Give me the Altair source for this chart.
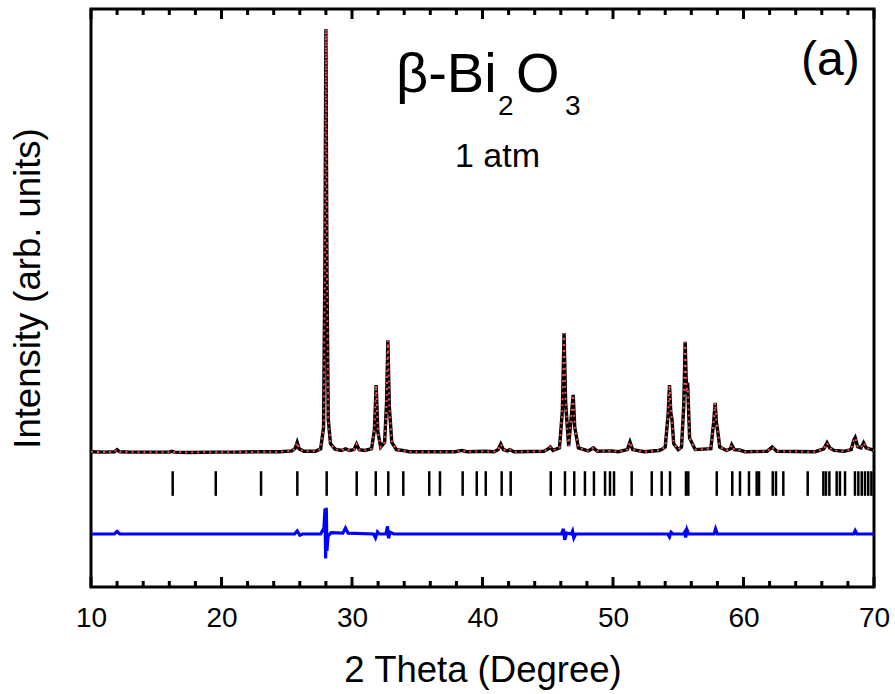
import altair as alt
import pandas as pd

FONT = "Liberation Sans"

# ---- observed / calculated profile (2theta in degrees, intensity in arb. units) ----
two_theta = [10.0, 11.0, 11.8, 12.0, 12.2, 13.0, 14.5, 16.0, 16.2, 16.4, 17.5, 19.5, 21.0, 23.0,
             24.5, 25.4, 25.65, 25.8, 25.95, 26.3, 27.2, 27.6, 27.82, 27.92, 28.0, 28.08, 28.18,
             28.35, 28.7, 29.2, 29.5, 29.8, 30.15, 30.35, 30.55, 31.0, 31.5, 31.72, 31.85, 31.98,
             32.2, 32.5, 32.65, 32.75, 32.86, 33.05, 33.4, 33.9, 34.4, 36.0, 37.9, 38.4, 38.8,
             40.2, 40.9, 41.2, 41.4, 41.6, 41.9, 42.1, 42.4, 44.7, 45.05, 45.2, 45.4, 45.9, 46.12,
             46.25, 46.37, 46.6, 46.83, 46.95, 47.07, 47.35, 48.1, 48.5, 48.8, 49.9, 50.4, 51.1,
             51.3, 51.5, 52.4, 53.5, 53.7, 54.0, 54.22, 54.33, 54.43, 54.52, 54.65, 55.0, 55.25,
             55.42, 55.53, 55.63, 55.73, 55.87, 56.3, 57.5, 57.72, 57.83, 57.93, 58.01, 58.18,
             58.7, 59.0, 59.1, 59.3, 59.7, 60.1, 61.8, 62.2, 62.55, 65.5, 66.15, 66.4, 66.62,
             66.95, 67.7, 68.25, 68.45, 68.56, 68.75, 69.0, 69.2, 69.4, 70.0]
i_obs = [3, 2, 3, 8, 3, 2, 2, 2, 4, 2, 1, 2, 2, 3,
         3, 5, 11, 25, 10, 4, 4, 10, 60, 420, 1000, 430, 80,
         22, 9, 6, 10, 6, 8, 21, 8, 6, 10, 55, 160, 50,
         14, 25, 120, 266, 110, 25, 8, 6, 3, 3, 3, 6, 3,
         4, 3, 8, 21, 8, 5, 8, 3, 4, 10, 14, 6, 12, 100,
         283, 120, 16, 95, 137, 60, 12, 5, 12, 4, 5, 3, 8,
         26, 8, 3, 6, 8, 14, 90, 160, 95, 80, 22, 8, 14,
         110, 262, 150, 155, 35, 8, 10, 75, 118, 70, 55, 14,
         6, 10, 19, 8, 7, 3, 4, 14, 4, 3, 10, 24, 12,
         6, 4, 8, 30, 36, 15, 12, 24, 12, 6]
i_calc = [3, 2, 3, 8, 3, 2, 2, 2, 4, 2, 1, 2, 2, 3,
          3, 5, 11, 25, 10, 4, 4, 10, 60, 420, 1000, 430, 80,
          22, 9, 6, 10, 6, 8, 21, 8, 6, 10, 55, 160, 50,
          14, 25, 120, 266, 110, 25, 8, 6, 3, 3, 3, 6, 3,
          4, 3, 8, 21, 8, 5, 8, 3, 4, 10, 14, 6, 12, 100,
          283, 120, 16, 95, 137, 60, 12, 5, 12, 4, 5, 3, 8,
          26, 8, 3, 6, 8, 14, 90, 160, 95, 80, 22, 8, 14,
          110, 262, 150, 155, 35, 8, 10, 75, 118, 70, 55, 14,
          6, 10, 19, 8, 7, 3, 4, 14, 4, 3, 10, 24, 12,
          6, 4, 8, 30, 36, 15, 12, 24, 12, 6]

# ---- Bragg reflection positions ----
bragg_pos = [16.26, 19.56, 23.03, 25.81, 28.06, 30.36, 31.82, 32.78, 33.93, 35.92, 36.74, 38.48,
             39.56, 40.25, 41.47, 42.16, 45.23, 46.32, 47.03, 47.85, 48.54, 49.39, 49.77, 50.08,
             51.43, 52.97, 53.73, 54.37, 55.59, 55.77, 57.95, 59.14, 59.73, 60.42, 61.01, 61.19,
             62.24, 62.49, 63.05, 64.92, 66.12, 66.32, 66.58, 67.14, 67.39, 67.78, 68.54, 68.80,
             69.06, 69.31, 69.56, 69.80]

# ---- difference curve (obs - calc) ----
diff_theta = [10.0, 11.8, 12.0, 12.2, 25.6, 25.8, 26.0, 26.2, 27.6, 27.85, 27.93, 27.98, 28.03,
              28.08, 28.16, 28.4, 29.3, 29.5, 29.7, 31.65, 31.8, 31.95, 32.1, 32.6, 32.72, 32.8,
              32.92, 33.2, 46.05, 46.2, 46.3, 46.45, 46.8, 46.9, 47.0, 47.15, 54.2, 54.33, 54.45,
              54.6, 55.4, 55.5, 55.57, 55.67, 55.8, 57.75, 57.86, 58.0, 68.45, 68.56, 68.7, 70.0]
diff_val = [0, 0, 6, 0, 0, 7, -3, 0, 0, 14, 60, -58, 62,
            -40, -5, 3, 2, 14, 2, 0, -9, 5, 0, 0, 18, -10,
            4, 0, 0, 12, -14, 2, 0, 7, -9, 0, 0, -7, 4,
            0, 0, 5, -8, 10, 0, 0, 12, 0, 0, 8, 0, 0]

major_ticks = [10, 20, 30, 40, 50, 60, 70]
minor_ticks = [12, 14, 16, 18, 22, 24, 26, 28, 32, 34, 36, 38, 42, 44, 46, 48,
               52, 54, 56, 58, 62, 64, 66, 68]

DIFF_OFFSET = -191
BRAGG_TOP, BRAGG_BOTTOM = -43, -101
W, H = 783, 578

prof = pd.DataFrame({"tt": two_theta, "obs": i_obs, "calc": i_calc})
bragg = pd.DataFrame({"tt": bragg_pos})
diff = pd.DataFrame({"tt": diff_theta, "d": diff_val})
majors = pd.DataFrame({"tt": major_ticks})
minors = pd.DataFrame({"tt": minor_ticks})

xscale = alt.Scale(domain=[10, 70], nice=False, zero=False)
yscale = alt.Scale(domain=[-316, 1047], nice=False, zero=False)

yaxis = alt.Axis(title="Intensity (arb. units)", labels=False, ticks=False, domain=False,
                 grid=False, titleFont=FONT, titleFontSize=36.5, titleFontWeight="normal",
                 titleColor="black", titleAngle=270, titleBaseline="middle", titleAlign="center",
                 titleX=-63, titleY=279)

xaxis = alt.Axis(values=major_ticks, ticks=False, tickSize=0, domain=False, grid=False,
                 labelFont=FONT, labelFontSize=28, labelColor="black", labelPadding=17,
                 labelFlush=False, labelOverlap=False,
                 title="2 Theta (Degree)", titleFont=FONT, titleFontSize=36.5,
                 titleFontWeight="normal", titleColor="black", titlePadding=20)

obs_line = alt.Chart(prof).mark_line(color="black", strokeWidth=3.4).encode(
    x=alt.X("tt:Q", scale=xscale, axis=xaxis),
    y=alt.Y("obs:Q", scale=yscale, axis=yaxis),
)
calc_line = alt.Chart(prof).mark_line(color="#ff4a4a", strokeWidth=2, strokeDash=[2, 4]).encode(
    x=alt.X("tt:Q", scale=xscale),
    y=alt.Y("calc:Q", scale=yscale),
)
bragg_rules = alt.Chart(bragg).mark_rule(color="black", strokeWidth=2.5).encode(
    x=alt.X("tt:Q", scale=xscale),
    y=alt.Y(datum=BRAGG_TOP, scale=yscale),
    y2=alt.Y2(datum=BRAGG_BOTTOM),
)
diff_line = alt.Chart(diff).transform_calculate(
    dy=f"datum.d + ({DIFF_OFFSET})"
).mark_line(color="#0000ff", strokeWidth=3.2).encode(
    x=alt.X("tt:Q", scale=xscale),
    y=alt.Y("dy:Q", scale=yscale),
)


# ---- inward frame ticks (major every 10, minor every 2) ----
def frame_ticks(df, y0, y1):
    return alt.Chart(df).mark_rule(color="black", strokeWidth=3).encode(
        x=alt.X("tt:Q", scale=xscale),
        y=alt.value(y0), y2=alt.value(y1),
    )


ticks = [
    frame_ticks(majors, H - 10, H),
    frame_ticks(minors, H - 6, H),
    frame_ticks(majors, 0, 10),
    frame_ticks(minors, 0, 6),
]

# ---- annotations ----
notes = [
    ("β-Bi", 305, 83, 56),
    ("2", 407, 106, 28),
    ("O", 425, 83, 56),
    ("3", 474, 106, 28),
    ("1 atm", 364, 158, 34),
    ("(a)", 710, 66, 48),
]
texts = []
for label, px, py, fs in notes:
    texts.append(
        alt.Chart(pd.DataFrame({"t": [label]})).mark_text(
            align="left", baseline="alphabetic", font=FONT, fontSize=fs, color="black"
        ).encode(x=alt.value(px), y=alt.value(py), text="t:N")
    )

chart = alt.layer(obs_line, calc_line, bragg_rules, diff_line, *ticks, *texts).properties(
    width=W, height=H,
    autosize=alt.AutoSizeParams(type="none"),
    padding={"left": 91, "top": 9, "right": 21, "bottom": 107},
    background="white",
).configure_view(stroke="black", strokeWidth=3)

chart.save("out.html", embed_options={"renderer": "svg", "actions": False})
